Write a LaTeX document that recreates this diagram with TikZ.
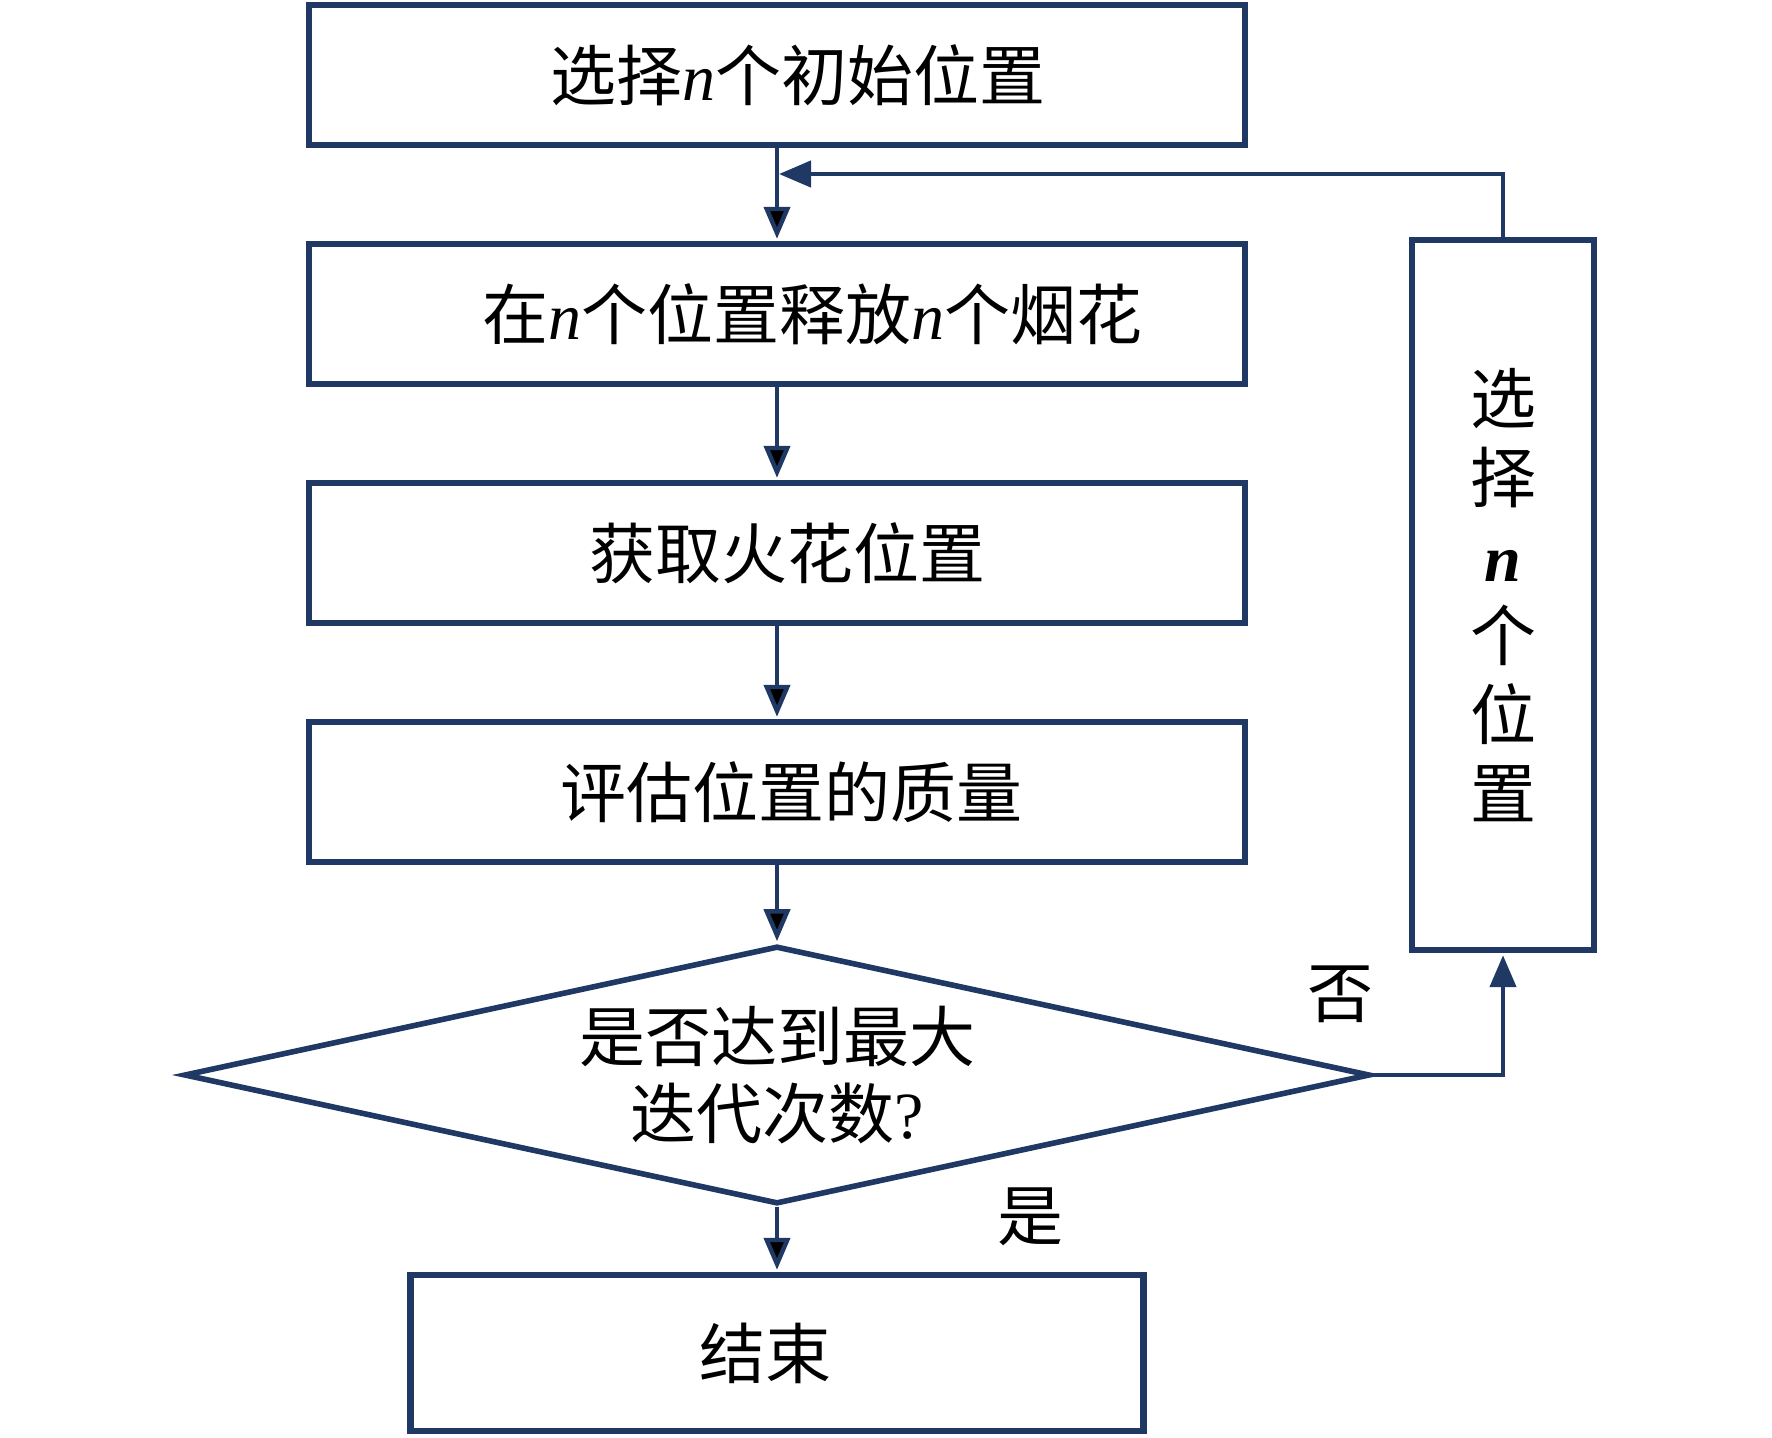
\documentclass[tikz,border=0pt]{standalone}
\usepackage{fontspec}
\setmainfont{Noto Sans CJK SC}
\newfontfamily\tnr{Liberation Serif}
\usepackage{xcolor}
\usepackage{tikz}
\usetikzlibrary{arrows.meta,positioning,shapes.geometric}
\definecolor{navy}{RGB}{32,56,100}
\newcommand{\nvar}{{\tnr\itshape n}}

\begin{document}
\begin{tikzpicture}[x=0.5pt,y=-0.5pt,
box/.style={draw=navy,line width=3.2pt,inner sep=0pt,minimum width=468pt,minimum height=70pt,
font=\fontsize{33}{39}\selectfont},
decide/.style={diamond,draw=navy,line width=2.8pt,inner sep=0pt,aspect=4.5,minimum width=593pt,
minimum height=129pt,align=center,font=\fontsize{33}{38.5}\selectfont},
lbl/.style={font=\fontsize{33}{39}\selectfont},
conn/.style={draw=navy,line width=2.2pt,shorten >=1pt,-{Triangle[length=16pt,width=13pt]}}]
\useasboundingbox (0,0) rectangle (1772,1437);
% main column
\node[box] (init) at (777,75) {\hspace*{21pt}选择\nvar 个初始位置};
\node[box] (fire) at (777,314) {\hspace*{35pt}在\nvar 个位置释放\nvar 个烟花};
\node[box] (spark) at (777,553) {\hspace*{10pt}获取火花位置};
\node[box] (eval) at (777,792) {\hspace*{14pt}评估位置的质量};
\node[decide] (dec) at (777,1075) {是否达到最大\\迭代次数{\tnr ?}};
\node[box,minimum width=366.5pt,minimum height=78pt] (stop) at (777,1353) {结束\hspace*{12pt}};
% side box
\node[box,minimum width=91pt,minimum height=355pt,align=center,font=\fontsize{33}{39.5}\selectfont]
(pick) at (1503,595) {选\\择\\{\tnr\bfseries\itshape n}\\个\\位\\置};
\node[lbl] (no) at (1340,994) {否};
\node[lbl] (yes) at (1030,1217) {是};
\coordinate (join) at (777,174);
\path[conn] (init) edge (fire) (fire) edge (spark) (spark) edge (eval) (eval) edge (dec) (dec) edge (stop);
\draw[conn] (dec.east) -| (pick.south);
\draw[conn] (pick.north) |- (join);
\end{tikzpicture}
\end{document}
